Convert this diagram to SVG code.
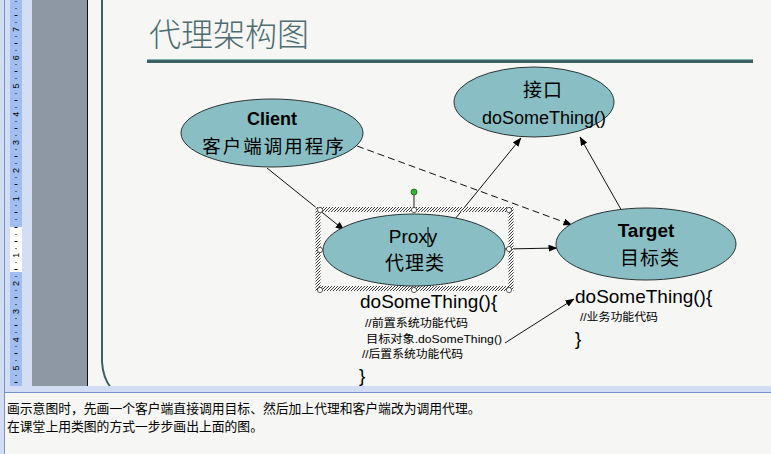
<svg xmlns="http://www.w3.org/2000/svg" width="771" height="454" viewBox="0 0 771 454">
<style>
.ell{fill:#89bfc4;stroke:#2a3434;stroke-width:1}
.lat{font-family:"Liberation Sans",Arial,sans-serif;fill:#000}
.cjk{font-family:"Liberation Sans","Noto Sans CJK SC",sans-serif;fill:#000}
.conn{stroke:#111;stroke-width:1;fill:none}
.rn{font-family:"Liberation Sans",Arial,sans-serif;font-size:9px;fill:#000}
.tick{fill:#000}
.h{fill:#fff;stroke:#333;stroke-width:0.8}
</style>
<defs>
<marker id="arr" markerWidth="9" markerHeight="7" refX="8.5" refY="3.5" orient="auto" markerUnits="userSpaceOnUse"><path d="M0,0 L9,3.5 L0,7 z" fill="#000"/></marker>
<pattern id="hatch" patternUnits="userSpaceOnUse" width="3" height="3"><rect width="3" height="3" fill="#fff"/><path d="M-1,1 L1,-1 M0,3 L3,0 M2,4 L4,2" stroke="#222" stroke-width="0.9"/></pattern>
</defs>
<rect x="0" y="0" width="771" height="454" fill="#f6f6f4"/>
<!-- left panel -->
<g id="leftpane">
<rect x="0" y="0" width="32" height="454" fill="#d3def4"/>
<rect x="4" y="0" width="1" height="454" fill="#7393c9"/>
<rect x="10" y="0" width="12" height="386" fill="#a1bef0"/>
<rect x="10" y="227" width="12" height="45" fill="#ffffff"/>
<rect x="32" y="0" width="55" height="386" fill="#8e98a5"/>
<rect x="87" y="0" width="1" height="386" fill="#111"/>
<g id="ruler">
<text class="rn" transform="translate(19,29.6) rotate(-90)" text-anchor="middle">7</text>
<text class="rn" transform="translate(19,57.8) rotate(-90)" text-anchor="middle">6</text>
<text class="rn" transform="translate(19,86) rotate(-90)" text-anchor="middle">5</text>
<text class="rn" transform="translate(19,114.2) rotate(-90)" text-anchor="middle">4</text>
<text class="rn" transform="translate(19,142.4) rotate(-90)" text-anchor="middle">3</text>
<text class="rn" transform="translate(19,170.6) rotate(-90)" text-anchor="middle">2</text>
<text class="rn" transform="translate(19,198.8) rotate(-90)" text-anchor="middle">1</text>
<text class="rn" transform="translate(19,255.2) rotate(-90)" text-anchor="middle">1</text>
<text class="rn" transform="translate(19,283.4) rotate(-90)" text-anchor="middle">2</text>
<text class="rn" transform="translate(19,311.6) rotate(-90)" text-anchor="middle">3</text>
<text class="rn" transform="translate(19,339.8) rotate(-90)" text-anchor="middle">4</text>
<text class="rn" transform="translate(19,368) rotate(-90)" text-anchor="middle">5</text>
<g class="tick">
<rect x="15.5" y="1" width="1" height="1"/><rect x="15.5" y="8" width="1" height="1"/><rect x="14.5" y="15" width="3" height="1"/><rect x="15.5" y="22" width="1" height="1"/>
<rect x="15.5" y="36" width="1" height="1"/><rect x="14.5" y="43" width="3" height="1"/><rect x="15.5" y="50" width="1" height="1"/>
<rect x="15.5" y="64" width="1" height="1"/><rect x="14.5" y="71" width="3" height="1"/><rect x="15.5" y="78" width="1" height="1"/>
<rect x="15.5" y="93" width="1" height="1"/><rect x="14.5" y="100" width="3" height="1"/><rect x="15.5" y="107" width="1" height="1"/>
<rect x="15.5" y="121" width="1" height="1"/><rect x="14.5" y="128" width="3" height="1"/><rect x="15.5" y="135" width="1" height="1"/>
<rect x="15.5" y="149" width="1" height="1"/><rect x="14.5" y="156" width="3" height="1"/><rect x="15.5" y="163" width="1" height="1"/>
<rect x="15.5" y="177" width="1" height="1"/><rect x="14.5" y="184" width="3" height="1"/><rect x="15.5" y="191" width="1" height="1"/>
<rect x="15.5" y="205" width="1" height="1"/><rect x="14.5" y="212" width="3" height="1"/><rect x="15.5" y="219" width="1" height="1"/>
<rect x="14.5" y="227" width="3" height="1"/>
<rect x="15.5" y="234" width="1" height="1"/><rect x="14.5" y="241" width="3" height="1"/><rect x="15.5" y="248" width="1" height="1"/>
<rect x="15.5" y="262" width="1" height="1"/><rect x="14.5" y="269" width="3" height="1"/><rect x="15.5" y="276" width="1" height="1"/>
<rect x="15.5" y="290" width="1" height="1"/><rect x="14.5" y="297" width="3" height="1"/><rect x="15.5" y="304" width="1" height="1"/>
<rect x="15.5" y="318" width="1" height="1"/><rect x="14.5" y="325" width="3" height="1"/><rect x="15.5" y="332" width="1" height="1"/>
<rect x="15.5" y="346" width="1" height="1"/><rect x="14.5" y="353" width="3" height="1"/><rect x="15.5" y="360" width="1" height="1"/>
<rect x="15.5" y="375" width="1" height="1"/><rect x="14.5" y="382" width="3" height="1"/>
</g>
</g>
</g>
<!-- slide border -->
<path d="M102,0 L102,362 Q103,378 111,388" fill="none" stroke="#3d6163" stroke-width="2"/>
<!-- bottom band / notes -->
<rect x="5" y="386" width="766" height="6" fill="#d3def4"/>
<rect x="5" y="392" width="766" height="1" fill="#7393c9"/>
<rect x="5" y="393" width="766" height="61" fill="#f6f6f4"/>
<g id="notes">
<text class="cjk" x="7" y="413" font-size="12.8" font-family="'Noto Sans CJK SC',sans-serif">画示意图时，先画一个客户端直接调用目标、然后加上代理和客户端改为调用代理。</text>
<text class="cjk" x="7" y="431" font-size="12.8" font-family="'Noto Sans CJK SC',sans-serif">在课堂上用类图的方式一步步画出上面的图。</text>
</g>
<!-- title -->
<g id="title">
<text x="149" y="46" font-family="'Noto Sans CJK SC',sans-serif" font-size="32" font-weight="300" fill="#4d6c6f">代理架构图</text>
<rect x="147" y="59" width="606" height="1" fill="#86b2b4"/>
<rect x="147" y="60" width="606" height="3" fill="#3d6163"/>
</g>
<!-- connectors -->
<g id="connectors">
<path class="conn" d="M267,168 L344,230" marker-end="url(#arr)"/>
<path class="conn" d="M357,146 L572,225" stroke-dasharray="7,4" marker-end="url(#arr)"/>
<path class="conn" d="M455,219 L521,138" marker-end="url(#arr)"/>
<path class="conn" d="M623,213 L580,137" marker-end="url(#arr)"/>
<path class="conn" d="M505,249 L557,248" marker-end="url(#arr)"/>
<path class="conn" d="M505,343 L574,299" marker-end="url(#arr)"/>
</g>
<!-- nodes -->
<g id="client">
<ellipse class="ell" cx="272" cy="133" rx="91" ry="34"/>
<text class="lat" x="272" y="125" font-size="18" font-weight="bold" text-anchor="middle">Client</text>
<text class="cjk" x="274" y="153" font-size="18.5" letter-spacing="2" text-anchor="middle">客户端调用程序</text>
</g>
<g id="interface">
<ellipse class="ell" cx="534" cy="102" rx="80" ry="35"/>
<text class="cjk" x="543" y="97" font-size="19" letter-spacing="1" text-anchor="middle">接口</text>
<text class="lat" x="544" y="124" font-size="18" text-anchor="middle">doSomeThing()</text>
</g>
<g id="proxy">
<path d="M315.5,207 H513.5 V291 H315.5 Z M320.5,212 V286 H508.5 V212 Z" fill="url(#hatch)" fill-rule="evenodd"/>
<ellipse class="ell" cx="414" cy="250" rx="91" ry="36"/>
<text class="lat" x="413" y="243" font-size="19" text-anchor="middle">Proxy</text>
<line x1="428" y1="227" x2="428" y2="247" stroke="#000" stroke-width="1"/>
<text class="cjk" x="415" y="270" font-size="19" letter-spacing="1" text-anchor="middle">代理类</text>
<line x1="414" y1="195" x2="414" y2="208" stroke="#222" stroke-width="1"/>
<circle cx="414" cy="192" r="3" fill="#22c022" stroke="#116611" stroke-width="0.8"/>
<circle class="h" cx="320" cy="210" r="2.6"/><circle class="h" cx="414" cy="210" r="2.6"/><circle class="h" cx="509" cy="210" r="2.6"/>
<circle class="h" cx="320" cy="250" r="2.6"/><circle class="h" cx="509" cy="249" r="2.6"/>
<circle class="h" cx="320" cy="290" r="2.6"/><circle class="h" cx="414" cy="290" r="2.6"/><circle class="h" cx="509" cy="290" r="2.6"/>
</g>
<g id="target">
<ellipse class="ell" cx="646" cy="244" rx="90" ry="36"/>
<text class="lat" x="646" y="237" font-size="19" font-weight="bold" text-anchor="middle">Target</text>
<text class="cjk" x="650" y="265" font-size="19" letter-spacing="1" text-anchor="middle">目标类</text>
</g>
<g id="proxy-code">
<text class="lat" x="360" y="308" font-size="19">doSomeThing(){</text>
<text class="cjk" x="365" y="327" font-size="11" textLength="103" lengthAdjust="spacingAndGlyphs">//前置系统功能代码</text>
<text class="cjk" x="366" y="343" font-size="11.5" textLength="136" lengthAdjust="spacingAndGlyphs">目标对象.doSomeThing()</text>
<text class="cjk" x="362" y="358" font-size="11" textLength="101" lengthAdjust="spacingAndGlyphs">//后置系统功能代码</text>
<text class="lat" x="359" y="382" font-size="19">}</text>
</g>
<g id="target-code">
<text class="lat" x="575" y="303" font-size="19">doSomeThing(){</text>
<text class="cjk" x="580" y="321" font-size="11" textLength="78" lengthAdjust="spacingAndGlyphs">//业务功能代码</text>
<text class="lat" x="575" y="345" font-size="19">}</text>
</g>
</svg>
